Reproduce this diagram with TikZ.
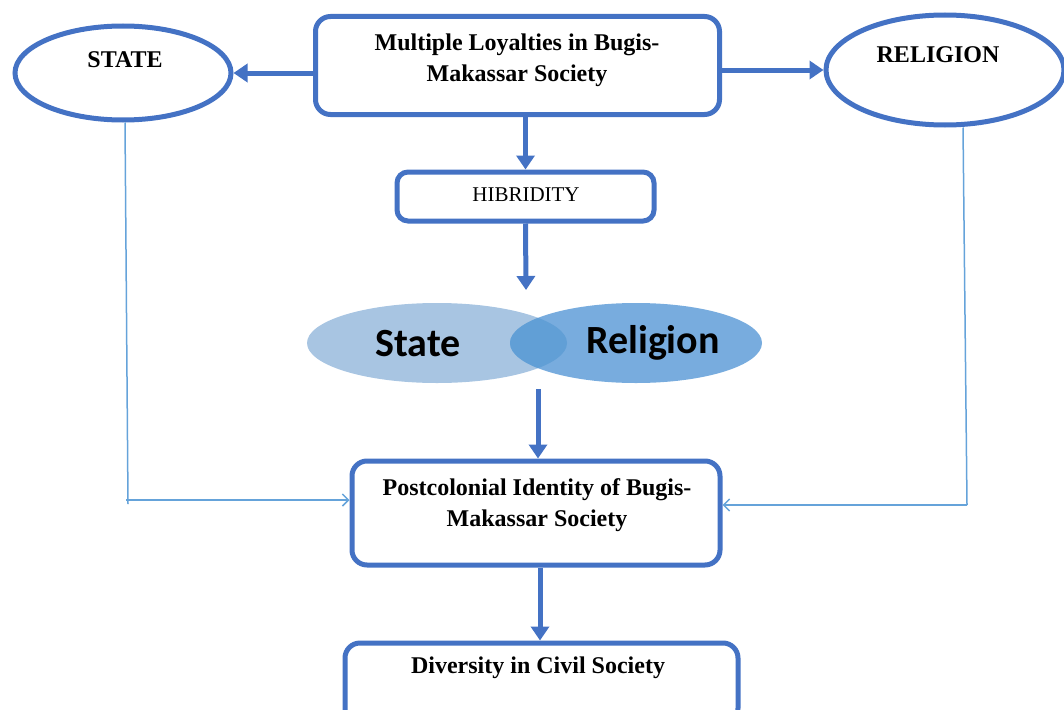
\documentclass[tikz,border=0pt]{standalone}
\usepackage{fontspec}
\setmainfont{Liberation Serif}
\newfontfamily\calib{Carlito}
\usetikzlibrary{arrows.meta,shapes.geometric}
\definecolor{mainblue}{HTML}{4472C4}
\definecolor{thinblue}{HTML}{65A3DA}
\definecolor{vstate}{HTML}{A8C5E2}
\definecolor{vrel}{HTML}{78ACDE}
\definecolor{vover}{HTML}{619FD6}
\tikzset{
  box/.style={draw=mainblue, line width=5pt, rounded corners=15pt, fill=white, inner sep=0pt},
  oval/.style={draw=mainblue, line width=5pt, ellipse, inner sep=0pt},
  lbl/.style={font=\bfseries\fontsize{24}{31}\selectfont, align=center, inner sep=0pt},
  bigarrow/.style={draw=mainblue, line width=5pt, -{Triangle[length=14pt,width=18pt]}},
  thinarrow/.style={draw=thinblue, line width=1.5pt, -{Straight Barb[length=6pt,width=12pt]}},
  thinline/.style={draw=thinblue, line width=1.5pt},
  vtxt/.style={font=\calib\bfseries\fontsize{40}{42}\selectfont, inner sep=0pt}
}
\begin{document}
\begin{tikzpicture}[x=1pt,y=-1pt]
\useasboundingbox (0,0) rectangle (1064,709);
% boxes
\node[box, minimum width=404pt, minimum height=98pt] (top) at (517.5,65.5) {};
\node[lbl] (toptxt) at (517,60) {Multiple Loyalties in Bugis-\\Makassar Society};
\node[box, minimum width=257pt, minimum height=49pt, rounded corners=11pt] (hib) at (525.5,196.5) {};
\node[font=\fontsize{21}{24}\selectfont, inner sep=0pt] (hibtxt) at (526,195) {HIBRIDITY};
\node[box, minimum width=368pt, minimum height=104pt] (post) at (536,513) {};
\node[lbl] (posttxt) at (537,505.5) {Postcolonial Identity of Bugis-\\Makassar Society};
\node[box, minimum width=393pt, minimum height=80pt] (div) at (541.5,683) {};
\node[lbl] (divtxt) at (538,668) {Diversity in Civil Society};
% ellipses
\node[oval, minimum width=216pt, minimum height=94pt] (state) at (123,73) {};
\node[lbl] (statetxt) at (125,60) {STATE};
\node[oval, minimum width=238pt, minimum height=110pt] (rel) at (945,70) {};
\node[lbl] (reltxt) at (938,55) {RELIGION};
% venn
\fill[vstate] (437,343) ellipse [x radius=130, y radius=40];
\fill[vrel] (636,343) ellipse [x radius=126, y radius=40];
\begin{scope}
\clip (636,343) ellipse [x radius=126, y radius=40];
\fill[vover] (437,343) ellipse [x radius=130, y radius=40];
\end{scope}
\node[vtxt] (vs) at (418,344) {State};
\node[vtxt] (vr) at (653,343) {Religion};
\coordinate (vtop) at (526,290);
\coordinate (vbot) at (538,389);
% thick arrows
\draw[bigarrow] (top.west |- state.center) -- (state.east);
\draw[bigarrow] (top.east |- rel.center) -- (rel.west);
\draw[bigarrow] (top.south -| hib.north) -- (hib.north);
\draw[bigarrow] (hib.south) -- (vtop);
\draw[bigarrow] (vbot) -- (vbot |- post.north);
\draw[bigarrow] (post.south -| 540,0) -- (div.north -| 540,0);
% thin connectors
\coordinate (sl) at (128,504);
\coordinate (sh) at (126,500);
\draw[thinline] (state.south -| 125,0) -- (sl);
\draw[thinarrow] (sh) -- (post.west |- sh);
\coordinate (rl) at (967,505);
\draw[thinline] (rel.south -| 963,0) -- (rl);
\draw[thinarrow] (rl) -- (post.east |- rl);
\end{tikzpicture}
\end{document}
